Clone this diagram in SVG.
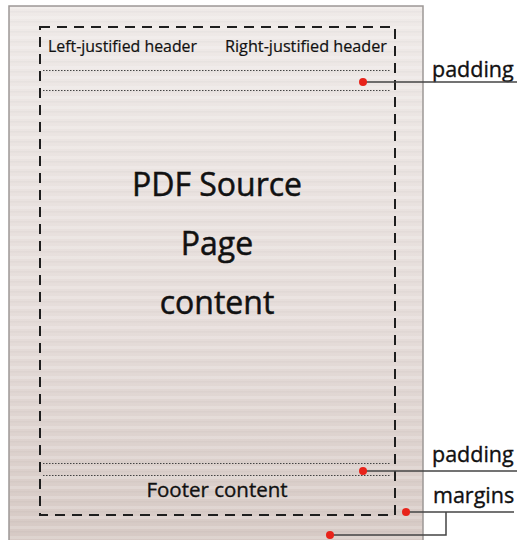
<svg xmlns="http://www.w3.org/2000/svg" width="517" height="540" viewBox="0 0 517 540">
  <defs>
    <linearGradient id="pageGrad" x1="0" y1="0" x2="0" y2="1">
      <stop offset="0" stop-color="#efeae8"/>
      <stop offset="0.6" stop-color="#e5dcd9"/>
      <stop offset="1" stop-color="#d6c9c4"/>
    </linearGradient>
    <pattern id="stripes" x="0" y="6" width="20" height="10" patternUnits="userSpaceOnUse">
      <rect x="0" y="0" width="20" height="3" fill="#ffffff" fill-opacity="0.18"/>
      <rect x="0" y="5" width="20" height="1.5" fill="#000000" fill-opacity="0.025"/>
    </pattern>
  </defs>
  <style>
    .txt { font-family: "Open Sans", "Liberation Sans", sans-serif; fill: #111; stroke: #111; stroke-width: 0.35; }
    .hdr { font-size: 15.5px; stroke-width: 0.2; }
    .big { font-size: 32px; text-anchor: middle; stroke-width: 0.5; }
    .foot { font-size: 20.5px; text-anchor: middle; }
    .lbl { font-size: 21.5px; }
    .dashed { fill: none; stroke: #1e1e1e; stroke-width: 2; stroke-dasharray: 10 7; }
    .dotted { fill: none; stroke: #444; stroke-width: 1.2; stroke-dasharray: 1.5 1.5; }
    .conn { fill: none; stroke: #444; stroke-width: 1.5; }
    .dot { fill: #e8231a; }
  </style>
  <rect width="517" height="540" fill="#ffffff"/>
  <g id="page">
    <rect x="9" y="6" width="414" height="540" fill="url(#pageGrad)" stroke="#9d9896" stroke-width="1.5"/>
    <rect x="10" y="7" width="412" height="533" fill="url(#stripes)"/>
  </g>
  <g id="margin-box">
    <rect class="dashed" x="40" y="27" width="355" height="488"/>
  </g>
  <g id="header">
    <text class="txt hdr" x="48" y="52" textLength="149" lengthAdjust="spacingAndGlyphs">Left-justified header</text>
    <text class="txt hdr" x="225" y="52" textLength="162" lengthAdjust="spacingAndGlyphs">Right-justified header</text>
    <line class="dotted" x1="43" y1="70.5" x2="391" y2="70.5"/>
    <line class="dotted" x1="43" y1="90.5" x2="391" y2="90.5"/>
  </g>
  <g id="content">
    <text class="txt big" x="217" y="196">PDF Source</text>
    <text class="txt big" x="217" y="255">Page</text>
    <text class="txt big" x="217" y="314">content</text>
  </g>
  <g id="footer">
    <line class="dotted" x1="43" y1="463.5" x2="391" y2="463.5"/>
    <line class="dotted" x1="43" y1="475.5" x2="391" y2="475.5"/>
    <text class="txt foot" x="217" y="497">Footer content</text>
  </g>
  <g id="labels">
    <text class="txt lbl" x="432" y="77">padding</text>
    <text class="txt lbl" x="432" y="462">padding</text>
    <text class="txt lbl" x="433" y="503">margins</text>
  </g>
  <g id="connectors">
    <line class="conn" x1="363" y1="82" x2="517" y2="82"/>
    <circle class="dot" cx="363" cy="82" r="4"/>
    <line class="conn" x1="363" y1="471" x2="517" y2="471"/>
    <circle class="dot" cx="363" cy="471" r="4"/>
    <line class="conn" x1="406" y1="512" x2="514" y2="512"/>
    <circle class="dot" cx="406" cy="512" r="4"/>
    <polyline class="conn" points="330,535 446,535 446,512"/>
    <circle class="dot" cx="330" cy="535" r="4"/>
  </g>
</svg>
